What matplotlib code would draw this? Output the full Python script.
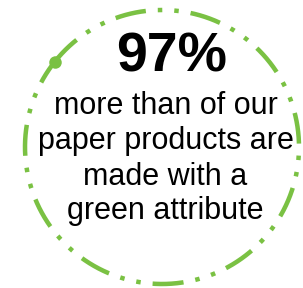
import numpy as np
import matplotlib
matplotlib.use('Agg')
import matplotlib.pyplot as plt

# Текст картки
big_number = '97%'
lines = ['more than of our', 'paper products are', 'made with a', 'green attribute']
baselines = [114, 149, 185, 219]

green = '#7AC143'
plt.rcParams['font.family'] = ['Liberation Sans', 'DejaVu Sans']
plt.rcParams['lines.scale_dashes'] = False

fig = plt.figure(figsize=(3.03, 2.88), dpi=100)
ax = fig.add_axes([0, 0, 1, 1])
ax.set_xlim(0, 303)
ax.set_ylim(288, 0)
ax.axis('off')

# Пунктирне коло
cx, cy, r = 162, 147, 137
start = np.arctan2(62 - cy, 55 - cx)
t = np.linspace(start, start + 2 * np.pi, 800)
px = 0.72
ax.plot(cx + r * np.cos(t), cy + r * np.sin(t), color=green, lw=4.5 * px,
        solid_capstyle='butt', dash_capstyle='butt',
        dashes=(31 * px, 12 * px, 4.5 * px, 12 * px, 4.5 * px, 12 * px))
ax.plot(cx + r * np.cos(start), cy + r * np.sin(start), marker='o', ms=9,
        color=green, mec='none')

ax.text(172, 71, big_number, ha='center', va='baseline', fontsize=40,
        fontweight='bold', color='black')
for s, y in zip(lines, baselines):
    ax.text(165.5, y, s, ha='center', va='baseline', fontsize=22, color='black')

fig.savefig('out.png', dpi=100)
